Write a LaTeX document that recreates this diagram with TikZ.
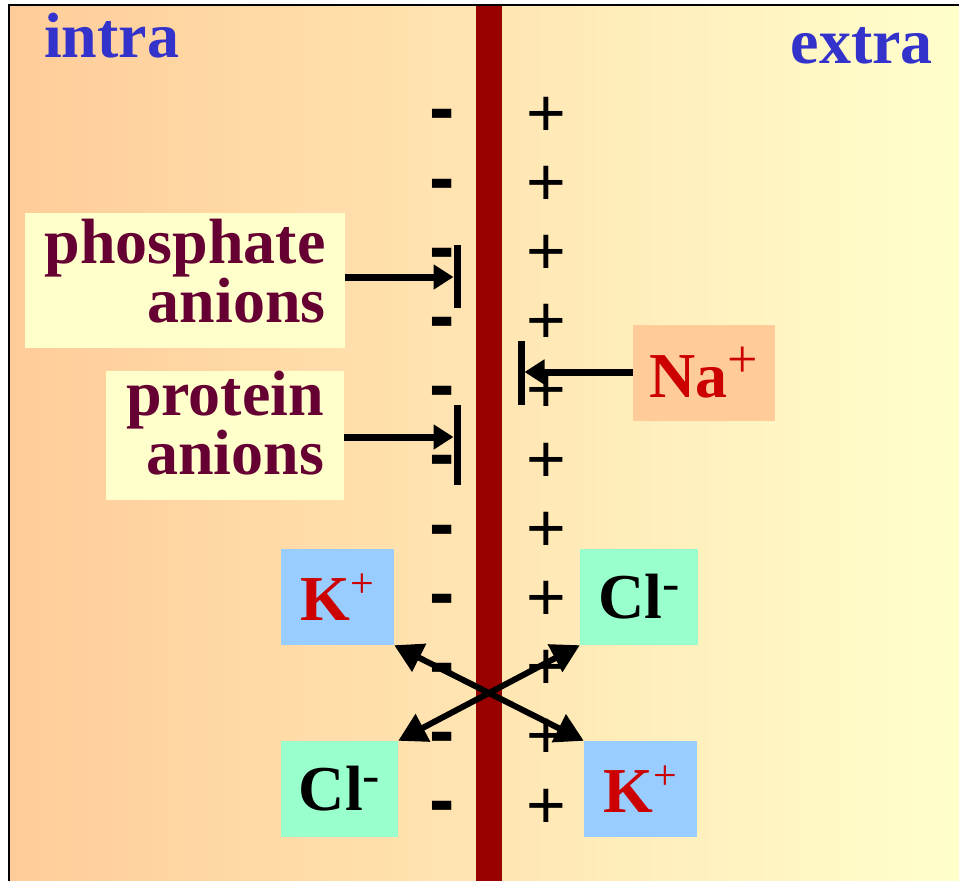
\documentclass[tikz,border=0pt]{standalone}
\usepackage{fontspec}
\setmainfont{Liberation Serif}
\newfontfamily\signfont{Liberation Sans}
\usepackage{xcolor}
\usetikzlibrary{arrows.meta,positioning}
\definecolor{warmorange}{HTML}{FFCC99}
\definecolor{paleyellow}{HTML}{FFFFCC}
\definecolor{membranered}{HTML}{990000}
\definecolor{sideblue}{HTML}{3333CC}
\definecolor{anionmaroon}{HTML}{660033}
\definecolor{ionred}{HTML}{CC0000}
\definecolor{kblue}{HTML}{99CCFF}
\definecolor{clgreen}{HTML}{99FFCC}
\newcommand{\ionsup}[3]{\raisebox{#2pt}{\fontsize{#1}{#1}\selectfont\mdseries #3}}

\begin{document}
\begin{tikzpicture}[x=1pt,y=-1pt,
    sidelabel/.style={inner sep=0pt,text=sideblue,font={\fontsize{64}{64}\selectfont\bfseries}},
    anionbox/.style={fill=paleyellow,inner sep=0pt,align=right,text=anionmaroon,
      font={\fontsize{64}{59}\selectfont\bfseries\lineskiplimit=-100pt}},
    ionbox/.style={inner sep=0pt,minimum height=96pt,font={\fontsize{64}{64}\selectfont\bfseries}},
    negsign/.style={inner sep=0pt,anchor=base,font={\signfont\bfseries\fontsize{76}{76}\selectfont}},
    possign/.style={inner sep=0pt,anchor=base,font={\signfont\fontsize{68}{68}\selectfont}},
    stoparrow/.style={line width=7pt,-{Triangle[length=20pt,width=24pt]}},
    stopbar/.style={line width=7pt},
    swaparrow/.style={line width=6pt,{Triangle[length=28pt,width=30pt]}-{Triangle[length=28pt,width=30pt]}}]
  \useasboundingbox (0,0) rectangle (959,881);

  % two compartments and the membrane
  \fill[left color=warmorange,right color=paleyellow] (9,5) rectangle (959,881);
  \fill[membranered] (476,6) rectangle (502,881);

  \node[sidelabel,anchor=base west] (intra) at (44,57) {intra};
  \node[sidelabel,anchor=base east] (extra) at (933,63) {extra};

  % charges along the membrane
  \foreach \i in {0,...,10} {
    \node[negsign] (neg\i) at (442,{133.8+69.2*\i}) {-};
    \node[possign] (pos\i) at (546,{136+69.2*\i}) {+};
  }

  % anions that cannot leave
  \node[anionbox,minimum width=320pt,minimum height=135pt] (phos) at (185,280.5)
    {phosphate\\anions\rule[-19pt]{0pt}{19pt}};
  \node[anionbox,minimum width=238pt,minimum height=115pt] (prot) at (225,435.5)
    {protein\\anions\rule[-26pt]{0pt}{26pt}};
  \coordinate (phtip) at (453.5,277);
  \coordinate (prtip) at (453.5,437);
  \draw[stoparrow] (phos.east |- phtip) -- (phtip);
  \draw[stopbar] (457,245) -- (457,308);
  \draw[stoparrow] (prot.east |- prtip) -- (prtip);
  \draw[stopbar] (457,405) -- (457,485);

  % sodium kept outside
  \node[ionbox,fill=warmorange,minimum width=142pt,text=ionred] (na) at (704,373)
    {Na\ionsup{54}{20}{+}};
  \coordinate (natip) at (524.5,372);
  \draw[stoparrow] (na.west |- natip) -- (natip);
  \draw[stopbar] (521,341) -- (521,405);

  % potassium and chloride exchange
  \node[ionbox,fill=kblue,minimum width=113pt,text=ionred] (kin) at (337.5,597) {K\ionsup{42}{23}{+}};
  \node[ionbox,fill=clgreen,minimum width=118pt] (clout) at (639,597) {Cl\ionsup{52}{18.3}{-}};
  \node[ionbox,fill=clgreen,minimum width=117pt] (clin) at (339.5,789) {Cl\ionsup{52}{18.3}{-}};
  \node[ionbox,fill=kblue,minimum width=113pt,text=ionred] (kout) at (640.5,789) {K\ionsup{42}{23}{+}};
  \draw[swaparrow] (kin.south east) -- (kout.north west);
  \draw[swaparrow] (clout.south west) -- (clin.north east);

  \draw[line width=2.5pt] (9,881) -- (9,5) -- (959,5);
\end{tikzpicture}
\end{document}
